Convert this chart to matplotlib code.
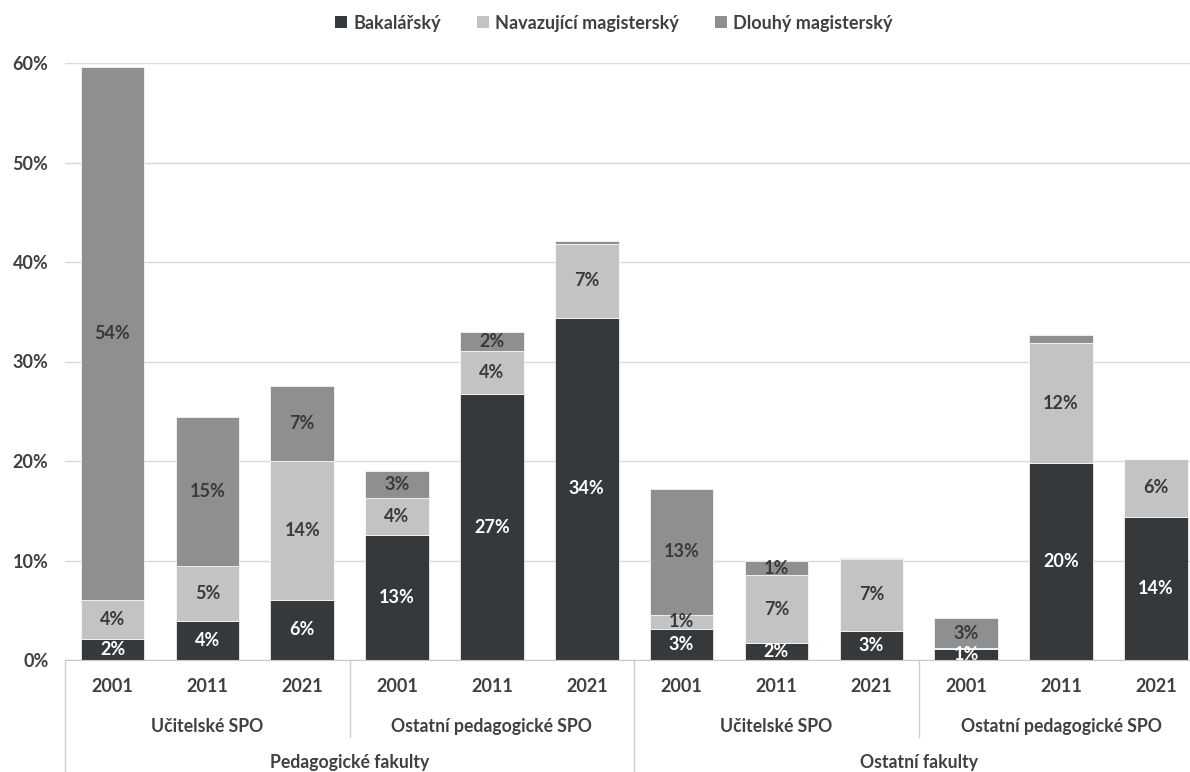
import numpy as np
import matplotlib
matplotlib.use("Agg")
from matplotlib import pyplot as plt
from matplotlib.patches import Patch
import matplotlib.transforms as mtransforms

plt.rcParams['font.family'] = ['Lato', 'DejaVu Sans']
plt.rcParams['font.weight'] = 'bold'

years = ['2001', '2011', '2021'] * 4
programmes = ['Učitelské SPO', 'Ostatní pedagogické SPO', 'Učitelské SPO', 'Ostatní pedagogické SPO']
faculties = ['Pedagogické fakulty', 'Ostatní fakulty']

series_names = ['Bakalářský', 'Navazující magisterský', 'Dlouhý magisterský']
bakalarsky = [2.1, 3.95, 6.05, 12.6, 26.7, 34.4, 3.1, 1.7, 2.95, 1.1, 19.75, 14.4]
navazujici = [3.9, 5.45, 14.0, 3.7, 4.4, 7.4, 1.45, 6.8, 7.2, 0.1, 12.1, 5.8]
dlouhy = [53.6, 15.0, 7.45, 2.7, 1.9, 0.3, 12.65, 1.4, 0.15, 3.0, 0.8, 0.05]

colors = ['#36393c', '#c3c3c3', '#8e8f91']
label_colors = ['white', '#3a3a3a', '#3a3a3a']
txt = '#404040'
grid_c = '#d9d9d9'

fig = plt.figure(figsize=(11.9, 7.72), dpi=100)
ax = fig.add_axes([65.1 / 1190, 112 / 772, 1138.2 / 1190, 597 / 772])

x = np.arange(len(years))
bottom = np.zeros(len(years))
for vals, c, lc in zip([bakalarsky, navazujici, dlouhy], colors, label_colors):
    vals = np.array(vals)
    ax.bar(x, vals, 0.67, bottom=bottom, color=c, edgecolor='white', linewidth=0.5, zorder=2)
    for xi, b, v in zip(x, bottom, vals):
        if v >= 1:
            ax.text(xi, b + v / 2, f'{round(v)}%', ha='center', va='center',
                    fontsize=13, color=lc, zorder=3, clip_on=True)
    bottom += vals

ax.set_xlim(-0.5, 11.5)
ax.set_ylim(0, 60)
ax.set_yticks(np.arange(0, 61, 10))
ax.set_yticklabels([f'{v}%' for v in range(0, 61, 10)], fontsize=13, color=txt)
ax.tick_params(axis='y', length=0, pad=12)
ax.set_xticks([])
ax.yaxis.grid(True, color=grid_c, linewidth=1)
ax.set_axisbelow(True)
for s in ['top', 'right', 'left']:
    ax.spines[s].set_visible(False)
ax.spines['bottom'].set_color('#c8c8c8')

# multi-level category axis
trans = mtransforms.blended_transform_factory(ax.transData, ax.transAxes)
for xi, y in zip(x, years):
    ax.text(xi, -0.0452, y, transform=trans, ha='center', va='center', fontsize=13, color=txt)
for i, p in enumerate(programmes):
    ax.text(3 * i + 1, -0.1106, p, transform=trans, ha='center', va='center', fontsize=12.7, color=txt)
for i, f in enumerate(faculties):
    ax.text(6 * i + 2.5, -0.1725, f, transform=trans, ha='center', va='center', fontsize=12.7, color=txt)

sep_c = '#cfcfcf'
for b in [-0.5, 5.5, 11.5]:
    ax.plot([b, b], [0, -0.19], transform=trans, color=sep_c, lw=1, clip_on=False)
for b in [2.5, 8.5]:
    ax.plot([b, b], [0, -0.129], transform=trans, color=sep_c, lw=1, clip_on=False)

handles = [Patch(facecolor=c, edgecolor='none') for c in colors]
leg = fig.legend(handles, series_names, loc='center', bbox_to_anchor=(0.516, 0.970), ncol=3,
                 frameon=False, fontsize=13, handlelength=0.65, handleheight=0.65,
                 handletextpad=0.35, columnspacing=2.0)
for t in leg.get_texts():
    t.set_color(txt)

fig.savefig('out.png', dpi=100)
